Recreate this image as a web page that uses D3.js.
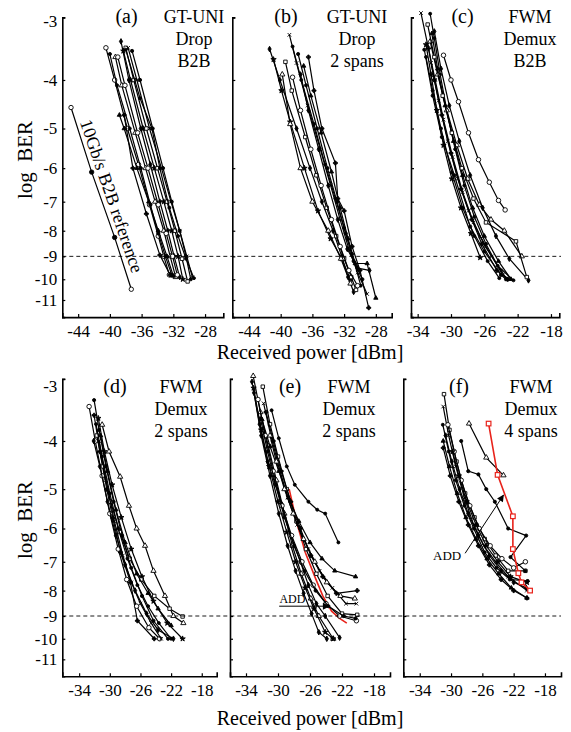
<!DOCTYPE html>
<html>
<head>
<meta charset="utf-8">
<script src="https://cdn.jsdelivr.net/npm/d3@7"></script>
<style>
  body { margin: 0; background: #fff; }
  text { font-family: "Liberation Serif", "Times New Roman", serif; }
</style>
</head>
<body>
<svg id="chart" width="571" height="732"></svg>
<script>
// tick values
const yTicks = [3, 4, 5, 6, 7, 8, 9, 10, 11];          // shown as -3 ... -11 (log BER)
const xTicksGT = [-44, -40, -36, -32, -28];
const xTicksFWM = [-34, -30, -26, -22, -18];
const berLimit = -9;

// 10Gb/s B2B reference, panel (a)
const refB2B = [[-44.9, -4.54], [-42.3, -6.11], [-39.4, -8.25], [-37.3, -10.47]];

// (a) GT-UNI Drop B2B
const curvesA = [
  [[-40.5, -3.45], [-39.4, -4.0], [-37.8, -5.0], [-36.4, -5.9], [-35.0, -7.1], [-33.9, -8.2], [-33.2, -9.0], [-32.5, -9.8]],
  [[-40.0, -3.55], [-39.1, -4.1], [-37.5, -5.0], [-36.1, -6.0], [-34.9, -7.1], [-33.9, -8.1], [-33.0, -9.0], [-32.2, -9.8]],
  [[-39.3, -3.6], [-38.5, -4.1], [-36.8, -5.1], [-35.5, -6.0], [-34.3, -7.0], [-33.2, -8.0], [-32.4, -9.0], [-31.7, -9.9]],
  [[-38.6, -3.35], [-37.6, -4.0], [-36.1, -5.0], [-34.9, -5.9], [-33.7, -7.0], [-32.7, -8.0], [-31.9, -9.0], [-31.2, -9.9]],
  [[-38.3, -3.5], [-37.4, -4.0], [-35.8, -5.0], [-34.4, -6.0], [-33.2, -7.0], [-32.2, -8.0], [-31.4, -9.0], [-30.8, -10.0]],
  [[-38.0, -3.45], [-37.0, -4.0], [-35.4, -5.0], [-34.0, -6.0], [-32.8, -7.0], [-31.8, -8.0], [-30.9, -9.1], [-30.2, -10.1]],
  [[-37.7, -3.45], [-36.6, -4.0], [-35.0, -5.0], [-33.5, -6.0], [-32.3, -7.0], [-31.2, -8.0], [-30.3, -9.0], [-29.6, -9.9]],
  [[-38.0, -3.48], [-36.2, -4.35], [-34.7, -5.0], [-33.7, -6.0], [-32.5, -7.2], [-31.4, -8.2], [-30.4, -9.1], [-29.4, -9.95]],
  [[-38.8, -4.7], [-38.2, -5.0], [-36.6, -6.0], [-35.1, -7.0], [-33.9, -8.0], [-32.8, -9.0], [-32.0, -9.85]],
  [[-38.2, -4.7], [-37.1, -6.0], [-35.4, -7.4], [-33.7, -8.95], [-32.4, -9.8]],
  [[-39.0, -3.6], [-38.1, -4.1], [-36.5, -5.1], [-35.2, -6.0], [-33.9, -7.1], [-32.9, -8.1], [-32.1, -9.0], [-31.5, -9.8]],
  [[-37.2, -3.5], [-36.2, -4.0], [-34.6, -5.0], [-33.3, -6.0], [-32.2, -7.0], [-31.2, -8.0], [-30.4, -9.0], [-29.8, -10.0]]
];

// (b) GT-UNI Drop 2 spans
const curvesB = [
  [[-41.4, -3.47], [-40.1, -4.0], [-38.0, -5.0], [-36.3, -6.0], [-34.8, -7.0], [-33.4, -8.0], [-32.3, -9.0], [-31.5, -9.9], [-30.8, -10.6]],
  [[-40.9, -3.64], [-39.9, -4.2], [-38.8, -4.85], [-37.0, -6.0], [-35.3, -7.3], [-33.7, -8.3], [-32.3, -9.1], [-31.2, -10.0]],
  [[-39.4, -3.68], [-38.6, -4.2], [-36.9, -5.2], [-35.5, -6.2], [-34.2, -7.2], [-33.0, -8.2], [-32.0, -9.1], [-31.1, -9.9], [-30.5, -10.5]],
  [[-38.9, -3.25], [-38.0, -3.7], [-36.6, -4.5], [-35.0, -5.5], [-33.7, -6.5], [-32.5, -7.6], [-31.4, -8.7], [-30.3, -9.7], [-29.1, -10.7]],
  [[-38.5, -3.43], [-37.4, -4.0], [-35.8, -4.9], [-34.4, -5.9], [-33.1, -6.9], [-32.0, -7.9], [-31.0, -8.9], [-29.9, -10.3]],
  [[-37.1, -3.75], [-36.2, -4.3], [-34.9, -5.1], [-33.6, -6.1], [-32.5, -7.2], [-31.5, -8.3], [-30.6, -9.3], [-29.1, -9.3], [-28.0, -10.9]],
  [[-36.5, -3.6], [-35.8, -4.2], [-34.8, -5.0], [-33.1, -5.86], [-32.8, -6.9], [-32.0, -7.3], [-31.0, -8.6], [-30.0, -9.6], [-28.9, -11.4]],
  [[-38.5, -3.95], [-37.5, -4.6], [-36.2, -5.5], [-34.9, -6.5], [-33.6, -7.6], [-32.5, -8.6], [-31.4, -9.6], [-30.3, -10.3]],
  [[-37.8, -3.55], [-36.8, -4.1], [-35.4, -5.0], [-34.1, -6.0], [-32.9, -7.0], [-31.8, -8.1], [-30.8, -9.2], [-29.7, -10.0]],
  [[-39.8, -3.9], [-38.8, -4.9], [-37.5, -6.0], [-36.0, -7.0], [-34.0, -8.0], [-32.4, -9.1], [-31.2, -10.2]],
  [[-37.5, -3.9], [-36.5, -4.6], [-35.2, -5.5], [-34.0, -6.5], [-32.8, -7.6], [-31.6, -8.7], [-30.3, -9.5], [-28.8, -9.6]]
];

// (c) FWM Demux B2B
const curvesC = [
  [[-33.6, -2.94], [-32.8, -3.4], [-31.9, -4.0], [-30.9, -4.8], [-29.8, -5.7], [-28.6, -6.7], [-27.3, -7.7], [-25.9, -8.6], [-24.0, -9.6], [-23.3, -10.0]],
  [[-32.5, -2.95], [-32.0, -3.3], [-31.3, -3.9], [-30.5, -4.6], [-29.5, -5.5], [-28.4, -6.5], [-27.2, -7.5], [-25.8, -8.5], [-24.4, -9.4], [-22.5, -10.05]],
  [[-32.3, -3.23], [-31.6, -3.8], [-30.7, -4.5], [-29.7, -5.3], [-28.6, -6.2], [-27.4, -7.2], [-26.0, -8.2], [-24.3, -9.2], [-22.8, -10.0]],
  [[-32.7, -3.46], [-32.0, -4.0], [-31.1, -4.7], [-30.0, -5.6], [-28.8, -6.6], [-27.5, -7.6], [-26.3, -8.5], [-24.5, -9.6], [-23.2, -10.0]],
  [[-30.9, -3.57], [-30.0, -4.0], [-29.1, -4.42], [-27.9, -5.1], [-26.7, -5.77], [-25.4, -6.4], [-24.3, -6.96], [-23.5, -7.27]],
  [[-33.2, -3.48], [-32.2, -4.3], [-31.1, -5.2], [-29.6, -6.2], [-27.7, -7.85], [-26.0, -8.8], [-24.0, -9.8], [-23.4, -10.0]],
  [[-32.5, -3.35], [-31.6, -3.9], [-30.5, -4.6], [-29.3, -5.4], [-28.0, -6.3], [-26.6, -7.1], [-25.2, -7.6], [-23.6, -8.0], [-21.5, -9.0]],
  [[-32.0, -3.2], [-31.2, -3.8], [-30.2, -4.5], [-29.0, -5.3], [-27.7, -6.2], [-26.2, -7.2], [-24.6, -8.2], [-23.0, -9.1], [-20.7, -10.05]],
  [[-33.0, -3.4], [-32.4, -3.9], [-31.7, -4.6], [-30.9, -5.4], [-29.9, -6.3], [-28.8, -7.2], [-27.6, -8.1], [-26.5, -9.05]],
  [[-32.8, -3.1], [-32.0, -3.6], [-31.0, -4.3], [-29.9, -5.1], [-28.7, -6.0], [-27.3, -6.9], [-25.8, -7.7], [-22.2, -8.4], [-20.9, -9.9]],
  [[-32.4, -3.7], [-31.5, -4.4], [-30.4, -5.3], [-29.2, -6.3], [-27.9, -7.3], [-26.5, -8.2], [-25.1, -9.0], [-23.8, -9.8], [-23.0, -10.0]],
  [[-33.0, -3.6], [-32.2, -4.2], [-31.2, -5.0], [-29.9, -6.12], [-28.6, -7.2], [-27.2, -8.2], [-25.6, -9.2], [-24.2, -9.95]]
];

// (d) FWM Demux 2 spans
const curvesD = [
  [[-32.05, -3.55], [-31.3, -4.2], [-30.4, -5.0], [-29.6, -5.72], [-28.6, -6.7], [-27.3, -7.7], [-26.4, -9.2], [-24.2, -10.0]],
  [[-32.7, -3.41], [-31.9, -4.0], [-31.0, -4.7], [-30.0, -5.6], [-28.9, -6.6], [-27.8, -7.6], [-26.5, -8.6], [-24.9, -9.5], [-23.5, -10.0]],
  [[-32.05, -3.31], [-31.4, -3.8], [-30.5, -4.5], [-29.5, -5.3], [-28.4, -6.2], [-27.2, -7.2], [-25.8, -8.2], [-24.3, -9.2], [-22.4, -10.0]],
  [[-31.0, -3.71], [-30.1, -4.2], [-28.65, -4.72], [-27.5, -5.4], [-26.5, -6.0], [-25.4, -6.5], [-24.3, -7.3], [-22.8, -8.2], [-21.7, -9.0], [-20.4, -9.3]],
  [[-32.1, -4.0], [-31.3, -4.5], [-30.3, -5.3], [-29.2, -6.2], [-28.0, -7.1], [-26.7, -8.0], [-25.2, -8.9], [-23.7, -9.6], [-21.7, -10.0]],
  [[-31.5, -3.6], [-30.7, -4.2], [-29.7, -4.9], [-28.5, -5.7], [-27.2, -6.6], [-25.8, -7.5], [-24.3, -8.4], [-22.5, -9.3], [-20.5, -10.0]],
  [[-31.7, -3.9], [-30.9, -4.5], [-29.9, -5.3], [-28.7, -6.1], [-27.4, -6.9], [-25.9, -7.6], [-24.2, -8.2], [-22.2, -8.7], [-20.5, -9.02]],
  [[-31.4, -4.0], [-30.5, -4.8], [-29.4, -5.8], [-28.3, -6.8], [-27.2, -7.7], [-26.0, -8.5], [-24.6, -9.3], [-23.3, -10.0]],
  [[-31.8, -3.7], [-31.0, -4.3], [-30.0, -5.1], [-28.9, -6.0], [-27.7, -6.9], [-26.4, -7.8], [-25.0, -8.6], [-23.6, -9.3], [-22.0, -10.0]],
  [[-31.2, -3.9], [-30.3, -4.6], [-29.2, -5.5], [-28.0, -6.4], [-26.5, -7.4], [-25.0, -8.1], [-23.7, -8.7], [-22.0, -9.4]]
];

// (e) FWM Demux 2 spans
const curvesE = [
  [[-33.1, -2.96], [-32.2, -3.5], [-31.2, -4.1], [-30.2, -4.8], [-29.2, -5.6], [-28.2, -6.5], [-27.1, -7.4], [-25.9, -8.3], [-24.9, -9.0], [-23.1, -10.0]],
  [[-33.25, -3.04], [-32.3, -3.7], [-31.3, -4.4], [-29.5, -5.37], [-28.4, -6.2], [-27.2, -7.0], [-26.2, -7.8], [-25.2, -8.5], [-24.1, -9.0], [-22.3, -9.95]],
  [[-33.05, -3.13], [-32.1, -3.8], [-31.1, -4.5], [-30.0, -5.3], [-28.9, -6.1], [-27.8, -7.0], [-26.6, -7.9], [-25.5, -8.7], [-24.1, -9.7], [-23.1, -10.0]],
  [[-31.9, -3.11], [-31.0, -3.7], [-30.0, -4.3], [-28.9, -5.0], [-27.7, -5.8], [-26.5, -6.6], [-25.2, -7.4], [-23.8, -8.2], [-22.0, -8.9], [-20.1, -8.95]],
  [[-31.8, -3.36], [-30.9, -3.9], [-29.9, -4.5], [-28.8, -5.2], [-27.6, -5.9], [-26.2, -6.6], [-24.8, -7.3], [-23.2, -7.9], [-21.5, -8.5], [-20.2, -8.5]],
  [[-30.8, -3.47], [-29.9, -3.95], [-28.9, -4.5], [-27.9, -4.9], [-26.2, -5.3], [-25.1, -5.5], [-24.1, -5.6], [-22.45, -6.4]],
  [[-32.0, -3.62], [-31.0, -4.1], [-29.9, -4.6], [-28.7, -5.2], [-27.4, -5.8], [-26.0, -6.4], [-24.5, -6.9], [-22.9, -7.3], [-20.3, -7.5]],
  [[-31.5, -3.5], [-30.6, -4.0], [-29.6, -4.6], [-28.4, -5.3], [-27.2, -6.0], [-25.9, -6.8], [-24.4, -7.5], [-22.7, -8.1], [-20.1, -8.0]],
  [[-32.5, -3.3], [-31.6, -3.9], [-30.6, -4.6], [-29.5, -5.4], [-28.3, -6.2], [-27.0, -7.0], [-25.6, -7.8], [-24.0, -8.5], [-22.3, -9.0], [-20.2, -9.2]],
  [[-32.2, -3.6], [-31.3, -4.2], [-30.3, -4.9], [-29.2, -5.7], [-28.0, -6.5], [-26.7, -7.3], [-25.3, -8.0], [-23.7, -8.6], [-21.8, -9.0], [-20.3, -9.1]],
  [[-31.0, -3.9], [-30.2, -4.4], [-29.2, -5.0], [-28.1, -5.6], [-26.8, -6.3], [-25.4, -7.0], [-23.9, -7.7], [-22.2, -8.2], [-20.4, -8.3]],
  [[-33.0, -3.2], [-32.1, -3.9], [-31.0, -4.7], [-29.9, -5.6], [-28.8, -6.5], [-27.8, -7.3], [-26.8, -8.1], [-25.8, -8.9], [-24.9, -9.7], [-23.9, -10.0]]
];
const redE = [[-28.6, -5.0], [-27.7, -5.8], [-26.6, -6.7], [-25.4, -7.5], [-24.4, -8.2], [-23.3, -8.8], [-22.3, -9.1], [-21.4, -9.3]];

// (f) FWM Demux 4 spans
const curvesF = [
  [[-30.9, -3.22], [-30.2, -3.8], [-29.3, -4.4], [-28.2, -5.1], [-27.0, -5.7], [-25.7, -6.3], [-24.3, -6.8], [-22.7, -7.3], [-20.5, -7.3]],
  [[-31.0, -3.41], [-30.3, -3.9], [-29.4, -4.5], [-28.3, -5.2], [-27.1, -5.9], [-25.8, -6.5], [-24.3, -7.0], [-22.7, -7.5], [-20.3, -8.0]],
  [[-31.05, -3.71], [-30.3, -4.2], [-29.4, -4.8], [-28.3, -5.4], [-27.1, -6.0], [-25.7, -6.7], [-24.2, -7.2], [-22.5, -7.6], [-20.2, -7.65]],
  [[-31.0, -4.0], [-30.2, -4.5], [-29.2, -5.1], [-28.1, -5.7], [-26.8, -6.3], [-25.4, -6.9], [-23.9, -7.4], [-22.3, -7.9], [-20.3, -8.28]],
  [[-31.0, -4.13], [-30.1, -4.7], [-29.0, -5.3], [-27.8, -5.9], [-26.5, -6.5], [-25.1, -7.1], [-23.6, -7.6], [-22.0, -8.0], [-20.3, -8.28]],
  [[-30.4, -3.71], [-29.6, -4.2], [-28.7, -4.8], [-27.6, -5.4], [-26.4, -6.0], [-25.0, -6.5], [-23.5, -6.9], [-22.0, -7.2], [-20.5, -7.0]],
  [[-28.7, -4.0], [-27.8, -4.6], [-26.5, -4.67], [-25.5, -5.0], [-24.4, -5.3], [-22.7, -6.0], [-20.4, -6.2], [-22.4, -6.85], [-20.5, -7.3]],
  [[-27.7, -3.69], [-25.5, -4.32], [-23.3, -4.69]],
  [[-30.7, -3.9], [-29.9, -4.4], [-28.9, -5.0], [-27.8, -5.6], [-26.5, -6.2], [-25.1, -6.8], [-23.6, -7.3], [-22.0, -7.7], [-20.4, -7.9]],
  [[-29.8, -4.2], [-29.0, -4.7], [-28.0, -5.3], [-26.8, -5.9], [-25.5, -6.5], [-24.0, -7.0], [-22.4, -7.5], [-20.3, -7.7]]
];
const redF = [[-25.2, -3.69], [-24.05, -4.68], [-22.1, -5.67], [-22.1, -6.6], [-21.4, -7.38], [-21.0, -7.7], [-19.9, -8.0]];

// panel layout: x scale per panel, y scale per row
const rows = [[17.4, 317.1], [378.9, 676.3]];
const textTop = [23, 393];
const topLabelShift = [4, 7];   // "-3" label sits below its tick in the original
const panels = [
  { curves: curvesA, xDomain: [-46, -25.7], xRange: [62.3, 223.3], row: 0, xTicks: xTicksGT, yLabels: true,
    tag: '(a)', tagX: 126.5, notes: ['GT-UNI', 'Drop', 'B2B'], notesX: 194 },
  { curves: curvesB, xDomain: [-46.1, -26], xRange: [232.3, 391.7], row: 0, xTicks: xTicksGT,
    tag: '(b)', tagX: 286, notes: ['GT-UNI', 'Drop', '2 spans'], notesX: 357 },
  { curves: curvesC, xDomain: [-34.8, -17], xRange: [411, 559.3], row: 0, xTicks: xTicksFWM,
    tag: '(c)', tagX: 462.5, notes: ['FWM', 'Demux', 'B2B'], notesX: 530 },
  { curves: curvesD, xDomain: [-36.2, -16.05], xRange: [62.3, 216.7], row: 1, xTicks: xTicksFWM, yLabels: true,
    tag: '(d)', tagX: 115, notes: ['FWM', 'Demux', '2 spans'], notesX: 181 },
  { curves: curvesE, red: redE, redOnTop: false, xDomain: [-36, -16], xRange: [230, 390], row: 1, xTicks: xTicksFWM,
    tag: '(e)', tagX: 290, notes: ['FWM', 'Demux', '2 spans'], notesX: 349 },
  { curves: curvesF, red: redF, redOnTop: true, xDomain: [-36.1, -15.95], xRange: [403.3, 561], row: 1, xTicks: xTicksFWM,
    tag: '(f)', tagX: 459, notes: ['FWM', 'Demux', '4 spans'], notesX: 531 }
];

// marker cycle, like the mixed symbols of the original plot
const markers = [
  { type: d3.symbolCircle, size: 16, fill: '#fff' },
  { type: d3.symbolCircle, size: 8, fill: '#000' },
  { type: d3.symbolTriangle, size: 12, fill: '#fff' },
  { type: d3.symbolDiamond, size: 9, fill: '#000' },
  { type: d3.symbolStar, size: 9, fill: '#000' },
  { type: d3.symbolSquare, size: 12, fill: '#fff' },
  { type: d3.symbolTimes, size: 10, fill: 'none' },
  { type: d3.symbolCircle, size: 7, fill: '#000' },
  { type: d3.symbolTriangle, size: 8, fill: '#000' },
  { type: d3.symbolCross, size: 9, fill: '#000' }
];

const svg = d3.select('#chart');
const RED = '#e8231b';

panels.forEach((p, pi) => {
  let x = d3.scaleLinear().domain(p.xDomain).range(p.xRange);
  let y = d3.scaleLog().domain([3, 11.9]).range(rows[p.row]);
  let px = d => x(d[0]);
  let py = d => y(-d[1]);
  let line = d3.line().x(px).y(py);
  let g = svg.append('g');

  // axes
  let yAxis = d3.axisLeft(y).tickValues(yTicks).tickSize(-3).tickSizeOuter(-3).tickPadding(5)
      .tickFormat(d => p.yLabels ? '-' + d : '');
  let xAxis = d3.axisBottom(x).tickValues(p.xTicks).tickSize(-3).tickSizeOuter(-4).tickPadding(8)
      .tickFormat(d => d);
  let gy = g.append('g').attr('transform', `translate(${p.xRange[0]},0)`).call(yAxis);
  let gx = g.append('g').attr('transform', `translate(0,${rows[p.row][1]})`).call(xAxis);
  [gx, gy].forEach(a => {
    a.attr('font-family', null).attr('font-size', 17);
    a.select('.domain').attr('stroke-width', 1.6);
    a.selectAll('.tick line').attr('stroke-width', 1.2);
  });
  gy.selectAll('.tick text').filter(d => d === 3).attr('y', topLabelShift[p.row]);

  let drawRed = () => {
    g.append('path').datum(p.red)
      .attr('d', line).attr('fill', 'none').attr('stroke', RED).attr('stroke-width', 1.6);
    if (p.redOnTop) {
      g.selectAll(null).data(p.red).enter().append('rect')
        .attr('x', d => px(d) - 2.3).attr('y', d => py(d) - 2.3)
        .attr('width', 4.6).attr('height', 4.6)
        .attr('fill', '#fff').attr('stroke', RED).attr('stroke-width', 1.2);
    }
  };
  // in (e) the ADD curve sits under the black ones
  if (p.red && !p.redOnTop) drawRed();

  // curves
  p.curves.forEach((c, ci) => {
    let m = markers[(ci + pi * 3) % markers.length];
    g.append('path').datum(c)
      .attr('d', line).attr('fill', 'none').attr('stroke', '#000').attr('stroke-width', 1.2);
    g.selectAll(null).data(c).enter().append('path')
      .attr('transform', d => `translate(${px(d)},${py(d)})`)
      .attr('d', d3.symbol().type(m.type).size(m.size))
      .attr('fill', m.fill).attr('stroke', '#000').attr('stroke-width', 0.9);
  });

  if (p.red && p.redOnTop) drawRed();

  // 10Gb/s reference line in (a)
  if (pi === 0) {
    g.append('path').datum(refB2B)
      .attr('d', line).attr('fill', 'none').attr('stroke', '#000').attr('stroke-width', 1.2);
    g.selectAll(null).data(refB2B).enter().append('circle')
      .attr('cx', px).attr('cy', py).attr('r', 2.2)
      .attr('fill', (d, i) => (i === 0 || i === 3) ? '#fff' : '#000')
      .attr('stroke', '#000').attr('stroke-width', 0.9);
    g.append('text')
      .attr('transform', `translate(${x(-39.75)},${y(6.82)}) rotate(71)`)
      .attr('text-anchor', 'middle').attr('dy', '0.35em')
      .attr('font-size', 18).text('10Gb/s B2B reference');
  }

  // panel tag and description
  let top = textTop[p.row];
  g.append('text').attr('x', p.tagX).attr('y', top)
    .attr('text-anchor', 'middle').attr('font-size', 20).text(p.tag);
  g.selectAll(null).data(p.notes).enter().append('text')
    .attr('x', p.notesX).attr('y', (d, i) => top + i * 22)
    .attr('text-anchor', 'middle').attr('font-size', 18).text(d => d);
});

// ADD annotations (drawn in data units of panels e and f)
svg.append('defs').append('marker')
  .attr('id', 'arrow').attr('viewBox', '0 0 10 10').attr('refX', 9).attr('refY', 5)
  .attr('markerWidth', 9).attr('markerHeight', 7).attr('markerUnits', 'userSpaceOnUse')
  .attr('orient', 'auto')
  .append('path').attr('d', 'M0,0L10,5L0,10Z').attr('fill', '#000');

let xe = d3.scaleLinear().domain(panels[4].xDomain).range(panels[4].xRange);
let xf = d3.scaleLinear().domain(panels[5].xDomain).range(panels[5].xRange);
let yb = d3.scaleLog().domain([3, 11.9]).range(rows[1]);

svg.append('line')
  .attr('x1', xe(-29.85)).attr('y1', yb(8.6)).attr('x2', xe(-23.6)).attr('y2', yb(8.6))
  .attr('stroke', '#000').attr('stroke-width', 1).attr('marker-end', 'url(#arrow)');
svg.append('text').attr('x', xe(-28.2)).attr('y', yb(8.6) - 3)
  .attr('text-anchor', 'middle').attr('font-size', 12).text('ADD');

svg.append('line')
  .attr('x1', xf(-28.2)).attr('y1', yb(6.73)).attr('x2', xf(-23.3)).attr('y2', yb(5.14))
  .attr('stroke', '#000').attr('stroke-width', 1).attr('marker-end', 'url(#arrow)');
svg.append('text').attr('x', xf(-30.5)).attr('y', yb(6.82) + 4)
  .attr('text-anchor', 'middle').attr('font-size', 13).text('ADD');

// BER limit dashed lines across each row
rows.forEach(r => {
  let y = d3.scaleLog().domain([3, 11.9]).range(r);
  svg.append('line')
    .attr('x1', 62.3).attr('x2', 561).attr('y1', y(-berLimit)).attr('y2', y(-berLimit))
    .attr('stroke', '#000').attr('stroke-width', 0.9).attr('stroke-dasharray', '4,3');
});

// axis titles
[[352, 160], [718, 520]].forEach(([xt, yt]) => {
  svg.append('text').attr('x', 310).attr('y', xt).attr('dy', '0.35em')
    .attr('text-anchor', 'middle').attr('font-size', 20).text('Received power [dBm]');
  svg.append('text').attr('transform', `translate(25,${yt}) rotate(-90)`).attr('dy', '0.35em')
    .attr('text-anchor', 'middle').attr('font-size', 21).style('white-space', 'pre').text('log  BER');
});
</script>
</body>
</html>
